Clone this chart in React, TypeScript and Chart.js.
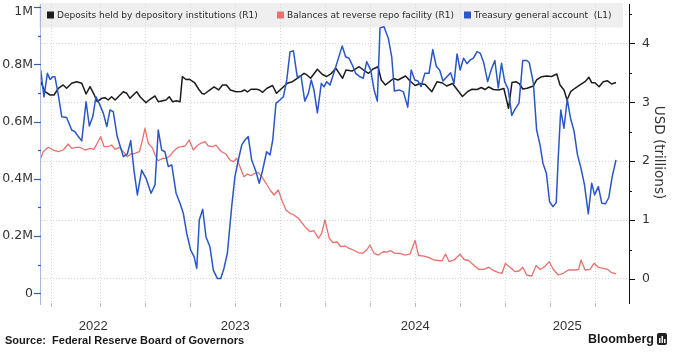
import React, { useEffect, useRef } from 'react';
import { Chart, registerables } from 'chart.js';

Chart.register(...registerables);

// ---- Data (x in decimal years) ----
// Treasury general account (left axis, millions of millions)
const tgaX = [2022.419,2022.437,2022.456,2022.471,2022.486,2022.498,2022.517,2022.536,2022.563,2022.591,
2022.609,2022.628,2022.647,2022.671,2022.689,2022.708,2022.726,2022.744,2022.767,2022.786,
2022.804,2022.822,2022.844,2022.878,2022.9,2022.919,2022.937,2022.956,2022.98,2023.004,
2023.032,2023.054,2023.072,2023.091,2023.109,2023.128,2023.147,2023.171,2023.193,2023.211,
2023.23,2023.252,2023.271,2023.286,2023.3,2023.319,2023.337,2023.359,2023.378,2023.4,
2023.419,2023.437,2023.456,2023.48,2023.498,2023.517,2023.536,2023.554,2023.572,2023.591,
2023.615,2023.633,2023.652,2023.674,2023.693,2023.708,2023.726,2023.748,2023.767,2023.786,
2023.804,2023.823,2023.844,2023.865,2023.886,2023.906,2023.922,2023.937,2023.956,2023.978,
2023.993,2024.008,2024.026,2024.044,2024.067,2024.094,2024.113,2024.132,2024.15,2024.169,
2024.193,2024.211,2024.23,2024.252,2024.271,2024.289,2024.304,2024.326,2024.35,2024.369,
2024.384,2024.411,2024.434,2024.458,2024.477,2024.497,2024.515,2024.532,2024.553,2024.576,
2024.597,2024.617,2024.635,2024.654,2024.673,2024.696,2024.715,2024.732,2024.749,2024.768,
2024.787,2024.805,2024.823,2024.843,2024.861,2024.879,2024.902,2024.921,2024.942,2024.961,
2024.979,2024.997,2025.016,2025.036,2025.054,2025.076,2025.097,2025.119,2025.133,2025.156,
2025.174,2025.193,2025.209,2025.228,2025.246,2025.265,2025.283,2025.294,2025.308,2025.326,
2025.344,2025.362,2025.382,2025.401,2025.421,2025.44,2025.461,2025.48,2025.496,2025.517,
2025.536,2025.557,2025.575,2025.594,2025.615];
const tgaY = [0.781,0.687,0.769,0.748,0.757,0.757,0.693,0.617,0.615,0.571,
0.565,0.548,0.533,0.670,0.585,0.617,0.687,0.664,0.629,0.583,
0.641,0.635,0.548,0.478,0.487,0.534,0.431,0.344,0.431,0.402,
0.350,0.379,0.571,0.501,0.495,0.443,0.449,0.350,0.315,0.280,
0.210,0.151,0.128,0.087,0.256,0.294,0.198,0.163,0.081,0.052,
0.052,0.087,0.140,0.303,0.408,0.466,0.519,0.536,0.548,0.466,
0.425,0.385,0.431,0.495,0.484,0.536,0.664,0.676,0.687,0.746,
0.844,0.848,0.757,0.760,0.672,0.699,0.746,0.711,0.631,0.734,
0.722,0.740,0.728,0.763,0.810,0.865,0.827,0.822,0.798,0.769,
0.757,0.752,0.810,0.781,0.711,0.672,0.928,0.932,0.892,0.827,
0.707,0.711,0.704,0.651,0.781,0.746,0.742,0.723,0.769,0.769,
0.852,0.793,0.781,0.742,0.755,0.771,0.734,0.837,0.781,0.822,
0.803,0.816,0.822,0.845,0.839,0.809,0.740,0.781,0.814,0.718,
0.804,0.739,0.714,0.622,0.644,0.665,0.814,0.814,0.807,0.735,
0.571,0.519,0.455,0.420,0.320,0.303,0.317,0.473,0.641,0.577,
0.679,0.613,0.567,0.484,0.436,0.379,0.278,0.385,0.344,0.373,
0.315,0.313,0.335,0.408,0.466];

// Deposits held by depository institutions (right axis, USD trillions)
const depX = [2022.419,2022.443,2022.471,2022.493,2022.517,2022.544,2022.563,2022.591,2022.619,2022.647,
2022.671,2022.693,2022.715,2022.733,2022.758,2022.776,2022.794,2022.813,2022.832,2022.85,
2022.878,2022.897,2022.915,2022.933,2022.952,2022.971,2023.004,2023.026,2023.054,2023.072,
2023.097,2023.115,2023.133,2023.152,2023.174,2023.193,2023.206,2023.226,2023.246,2023.273,
2023.296,2023.315,2023.329,2023.354,2023.382,2023.407,2023.429,2023.451,2023.473,2023.504,
2023.534,2023.551,2023.568,2023.587,2023.618,2023.634,2023.652,2023.676,2023.707,2023.729,
2023.759,2023.789,2023.817,2023.844,2023.882,2023.898,2023.918,2023.956,2023.984,2024.008,
2024.034,2024.059,2024.096,2024.115,2024.148,2024.188,2024.212,2024.24,2024.265,2024.293,
2024.311,2024.334,2024.357,2024.379,2024.404,2024.446,2024.471,2024.499,2024.526,2024.555,
2024.592,2024.621,2024.651,2024.674,2024.707,2024.734,2024.762,2024.79,2024.815,2024.843,
2024.867,2024.887,2024.908,2024.934,2024.962,2024.992,2025.018,2025.037,2025.059,2025.079,
2025.097,2025.121,2025.156,2025.174,2025.202,2025.23,2025.257,2025.286,2025.304,2025.326,
2025.343,2025.363,2025.387,2025.415,2025.443,2025.465,2025.48,2025.498,2025.521,2025.544,
2025.568,2025.591,2025.615];
const depY = [3.350,3.180,3.124,3.124,3.238,3.294,3.238,3.323,3.350,3.323,
3.141,3.265,3.136,3.010,3.068,3.078,3.039,3.095,3.039,3.095,
3.180,3.153,3.068,3.124,3.180,3.095,2.993,3.051,3.107,3.010,
3.027,3.039,3.095,3.010,3.027,3.010,3.435,3.387,3.391,3.336,
3.226,3.149,3.141,3.200,3.260,3.209,3.294,3.294,3.209,3.180,
3.183,3.209,3.175,3.221,3.221,3.209,3.170,3.238,3.285,3.153,
3.238,3.323,3.350,3.408,3.492,3.464,3.408,3.560,3.472,3.438,
3.492,3.577,3.408,3.548,3.531,3.604,3.548,3.492,3.565,3.604,
3.379,3.294,3.350,3.404,3.379,3.447,3.362,3.285,3.319,3.302,
3.180,3.350,3.328,3.277,3.319,3.209,3.098,3.180,3.221,3.217,
3.251,3.217,3.260,3.217,3.209,3.234,2.898,3.336,3.350,3.311,
3.226,3.238,3.277,3.379,3.435,3.447,3.438,3.480,3.294,3.209,
3.039,3.180,3.238,3.294,3.350,3.424,3.333,3.333,3.265,3.350,
3.365,3.311,3.336];

// Balances at reverse repo facility (right axis, USD trillions)
const rrpX = [2022.419,2022.433,2022.461,2022.489,2022.517,2022.544,2022.572,2022.591,2022.615,2022.637,
2022.665,2022.693,2022.715,2022.733,2022.752,2022.771,2022.794,2022.813,2022.832,2022.856,
2022.878,2022.9,2022.919,2022.943,2022.967,2022.98,2022.998,2023.017,2023.041,2023.054,
2023.072,2023.097,2023.119,2023.141,2023.159,2023.183,2023.202,2023.221,2023.244,2023.267,
2023.286,2023.308,2023.332,2023.35,2023.374,2023.393,2023.406,2023.424,2023.448,2023.471,
2023.489,2023.508,2023.526,2023.548,2023.567,2023.586,2023.609,2023.628,2023.647,2023.671,
2023.693,2023.715,2023.739,2023.758,2023.782,2023.804,2023.826,2023.85,2023.887,2023.915,
2023.937,2023.961,2023.98,2023.998,2024.022,2024.044,2024.065,2024.086,2024.109,2024.133,
2024.156,2024.183,2024.208,2024.23,2024.248,2024.271,2024.294,2024.322,2024.343,2024.363,
2024.387,2024.415,2024.443,2024.471,2024.499,2024.518,2024.548,2024.574,2024.602,2024.629,
2024.648,2024.668,2024.687,2024.715,2024.749,2024.771,2024.796,2024.824,2024.852,2024.879,
2024.908,2024.936,2024.963,2024.982,2025.0,2025.027,2025.054,2025.076,2025.097,2025.119,
2025.147,2025.171,2025.193,2025.221,2025.244,2025.267,2025.294,2025.322,2025.35,2025.387,
2025.407,2025.421,2025.443,2025.471,2025.493,2025.517,2025.544,2025.567,2025.591,2025.615];
const rrpY = [2.049,2.161,2.236,2.190,2.161,2.190,2.292,2.219,2.236,2.236,
2.190,2.219,2.202,2.304,2.416,2.246,2.246,2.275,2.202,2.236,
2.161,2.076,2.122,2.134,2.161,2.304,2.559,2.304,2.219,2.105,
2.008,2.049,2.049,2.105,2.178,2.236,2.246,2.258,2.360,2.190,
2.258,2.304,2.331,2.258,2.246,2.275,2.219,2.161,2.122,2.020,
1.992,2.049,1.907,1.737,1.783,1.754,1.795,1.805,1.737,1.625,
1.511,1.426,1.511,1.341,1.171,1.115,1.087,1.031,0.888,0.803,
0.820,0.691,0.776,1.002,0.691,0.616,0.628,0.548,0.560,0.521,
0.492,0.447,0.436,0.492,0.577,0.436,0.407,0.463,0.458,0.480,
0.436,0.433,0.407,0.424,0.657,0.399,0.390,0.368,0.323,0.314,
0.306,0.424,0.297,0.323,0.419,0.331,0.314,0.238,0.165,0.165,
0.199,0.141,0.107,0.097,0.263,0.199,0.124,0.136,0.199,0.068,
0.051,0.229,0.161,0.216,0.294,0.161,0.068,0.097,0.153,0.153,
0.161,0.323,0.153,0.165,0.267,0.199,0.182,0.165,0.107,0.085];

// ---- Axes / labels ----
const xMin = 2022.4206;
const xMax = 2025.6872;
const xGridTicks = [2022.478, 2022.75, 2023, 2023.25, 2023.5, 2023.75, 2024, 2024.25, 2024.5, 2024.75, 2025, 2025.25, 2025.5];
const yearLabels = [2022, 2023, 2024, 2025];
const leftMin = -0.0339;
const leftMax = 1.0115;
const leftTicks = [0, 0.2, 0.4, 0.6, 0.8, 1];
const leftTickLabels = ['0', '0.2M', '0.4M', '0.6M', '0.8M', '1M'];
const leftMinorTicks = [0.1, 0.3, 0.5, 0.7, 0.9];
const rightMin = -0.4075;
const rightMax = 4.669;
const rightTicks = [0, 1, 2, 3, 4];
const rightTickLabels = ['0', '1', '2', '3', '4'];
const rightMinorTicks = [0.5, 1.5, 2.5, 3.5, 4.5];
const rightTitle = 'USD (trillions)';
const legendLabels = [
  'Deposits held by depository institutions (R1)',
  'Balances at reverse repo facility (R1)',
  'Treasury general account  (L1)',
];
const sourceText = 'Source:  Federal Reserve Board of Governors';
const brandText = 'Bloomberg';

const COLORS = { dep: '#1c1c1c', rrp: '#e8716f', tga: '#2a56c8' };

const decoPlugin = {
  id: 'deco',
  beforeDraw(chart: any) {
    const { ctx, width, height } = chart;
    const ca = chart.chartArea;
    ctx.save();
    ctx.fillStyle = '#ffffff';
    ctx.fillRect(0, 0, width, height);
    ctx.fillStyle = '#efefef';
    ctx.fillRect(ca.left - 2, 3, ca.right - ca.left - 4, 24.5);
    ctx.restore();
  },
  afterDraw(chart: any) {
    const { ctx } = chart;
    const ca = chart.chartArea;
    const sx = chart.scales.x;
    const sl = chart.scales.yL;
    const sr = chart.scales.yR;
    const al = (v: number) => Math.round(v) + 0.5;
    ctx.save();

    // left axis line
    ctx.strokeStyle = '#a9b9e2';
    ctx.lineWidth = 1;
    ctx.beginPath();
    ctx.moveTo(ca.left - 0.5, ca.top);
    ctx.lineTo(ca.left - 0.5, ca.bottom + 2);
    ctx.stroke();

    // left ticks
    ctx.strokeStyle = '#2f5bc8';
    ctx.lineWidth = 1.2;
    leftTicks.forEach((v) => {
      const y = al(sl.getPixelForValue(v));
      ctx.beginPath();
      ctx.moveTo(ca.left - 7, y);
      ctx.lineTo(ca.left, y);
      ctx.stroke();
    });
    leftMinorTicks.forEach((v) => {
      const y = al(sl.getPixelForValue(v));
      ctx.beginPath();
      ctx.moveTo(ca.left - 3, y);
      ctx.lineTo(ca.left, y);
      ctx.stroke();
    });
    ctx.fillStyle = '#333333';
    ctx.font = '12.5px "DejaVu Sans"';
    ctx.textAlign = 'right';
    ctx.textBaseline = 'middle';
    leftTicks.forEach((v, i) => {
      const y = Math.max(sl.getPixelForValue(v), 12);
      ctx.fillText(leftTickLabels[i], ca.left - 8, y);
    });

    // right ticks
    ctx.strokeStyle = '#111111';
    ctx.lineWidth = 1;
    rightTicks.forEach((v) => {
      const y = al(sr.getPixelForValue(v));
      ctx.beginPath();
      ctx.moveTo(ca.right, y);
      ctx.lineTo(ca.right + 6, y);
      ctx.stroke();
    });
    rightMinorTicks.forEach((v) => {
      const y = al(sr.getPixelForValue(v));
      ctx.beginPath();
      ctx.moveTo(ca.right, y);
      ctx.lineTo(ca.right + 3, y);
      ctx.stroke();
    });
    ctx.textAlign = 'left';
    rightTicks.forEach((v, i) => {
      ctx.fillText(rightTickLabels[i], ca.right + 13, sr.getPixelForValue(v));
    });

    // right title
    ctx.save();
    ctx.translate(ca.right + 29, (ca.top + ca.bottom) / 2 - 1);
    ctx.rotate(Math.PI / 2);
    ctx.textAlign = 'center';
    ctx.textBaseline = 'middle';
    ctx.font = '13.5px "DejaVu Sans"';
    ctx.fillText(rightTitle, 0, 0);
    ctx.restore();

    // year labels centred on the visible part of each year
    ctx.font = '13px "Liberation Sans"';
    ctx.textAlign = 'center';
    ctx.textBaseline = 'middle';
    ctx.fillStyle = '#333333';
    yearLabels.forEach((yr) => {
      const a = Math.max(yr, sx.min);
      const b = Math.min(yr + 1, sx.max);
      ctx.fillText(String(yr), sx.getPixelForValue((a + b) / 2), ca.bottom + 23);
    });

    // legend
    const items = [
      { c: COLORS.dep, x: 47 },
      { c: COLORS.rrp, x: 277 },
      { c: COLORS.tga, x: 464 },
    ];
    ctx.font = '9px "DejaVu Sans"';
    ctx.textAlign = 'left';
    ctx.textBaseline = 'middle';
    items.forEach((it, i) => {
      ctx.fillStyle = it.c;
      ctx.fillRect(it.x, 11.5, 7, 7);
      ctx.fillStyle = '#2a2a2a';
      ctx.fillText(legendLabels[i], it.x + 10, 15.5);
    });

    // source
    ctx.fillStyle = '#1a1a1a';
    ctx.font = 'bold 11px "Liberation Sans"';
    ctx.textAlign = 'left';
    ctx.fillText(sourceText, 5, 341);

    // brand
    ctx.font = 'bold 12.5px "Liberation Sans"';
    ctx.textAlign = 'right';
    ctx.fillText(brandText, 654, 339.5);
    ctx.fillStyle = '#222222';
    ctx.beginPath();
    if ((ctx as any).roundRect) {
      (ctx as any).roundRect(657, 333, 10, 12, 2);
    } else {
      ctx.rect(657, 333, 10, 12);
    }
    ctx.fill();
    ctx.fillStyle = '#ffffff';
    ctx.fillRect(659, 338, 1.5, 5);
    ctx.fillRect(661.5, 336, 1.5, 7);
    ctx.fillRect(664, 339, 1.5, 4);

    ctx.restore();
  },
};

export default function App() {
  const ref = useRef<HTMLCanvasElement | null>(null);
  useEffect(() => {
    const canvas = ref.current;
    if (!canvas) return;
    const toPts = (xs: number[], ys: number[]) => xs.map((x, i) => ({ x, y: ys[i] }));
    const chart = new Chart(canvas, {
      type: 'line',
      data: {
        datasets: [
          { label: legendLabels[0], data: toPts(depX, depY), yAxisID: 'yR', borderColor: COLORS.dep, borderWidth: 1.5, pointRadius: 0, order: 3 },
          { label: legendLabels[1], data: toPts(rrpX, rrpY), yAxisID: 'yR', borderColor: COLORS.rrp, borderWidth: 1.3, pointRadius: 0, order: 2 },
          { label: legendLabels[2], data: toPts(tgaX, tgaY), yAxisID: 'yL', borderColor: COLORS.tga, borderWidth: 1.5, pointRadius: 0, order: 1 },
        ],
      },
      options: {
        responsive: false,
        animation: false,
        devicePixelRatio: 1,
        layout: { padding: { top: 4, left: 0, right: 0, bottom: 0 }, autoPadding: false },
        plugins: { legend: { display: false }, tooltip: { enabled: false } },
        elements: { line: { tension: 0, borderJoinStyle: 'round' } },
        scales: {
          x: {
            type: 'linear',
            position: 'bottom',
            min: xMin,
            max: xMax,
            afterBuildTicks: (s: any) => { s.ticks = xGridTicks.map((v) => ({ value: v })); },
            afterFit: (s: any) => { s.height = 55; },
            ticks: { display: false },
            grid: { color: '#d6d6d6', lineWidth: 1, drawTicks: true, tickLength: 4, tickColor: '#bcbcbc', tickBorderDash: [] },
            border: { display: false, dash: [1, 2] },
          },
          yL: {
            type: 'linear',
            position: 'left',
            min: leftMin,
            max: leftMax,
            afterFit: (s: any) => { s.width = 41; },
            ticks: { display: false },
            grid: { display: false },
            border: { display: false },
          },
          yR: {
            type: 'linear',
            position: 'right',
            min: rightMin,
            max: rightMax,
            afterBuildTicks: (s: any) => { s.ticks = rightTicks.map((v) => ({ value: v })); },
            afterFit: (s: any) => { s.width = 51; },
            ticks: { display: false },
            grid: { color: '#d6d6d6', lineWidth: 1, drawTicks: false },
            border: { display: true, color: '#111111', width: 1, dash: [1, 2] },
          },
        },
      } as any,
      plugins: [decoPlugin],
    });
    return () => chart.destroy();
  }, []);
  return (
    <div style={{ position: 'fixed', left: 0, top: 0, width: 680, height: 358, background: '#fff' }}>
      <canvas ref={ref} width={680} height={358} style={{ display: 'block', width: 680, height: 358 }} />
    </div>
  );
}
